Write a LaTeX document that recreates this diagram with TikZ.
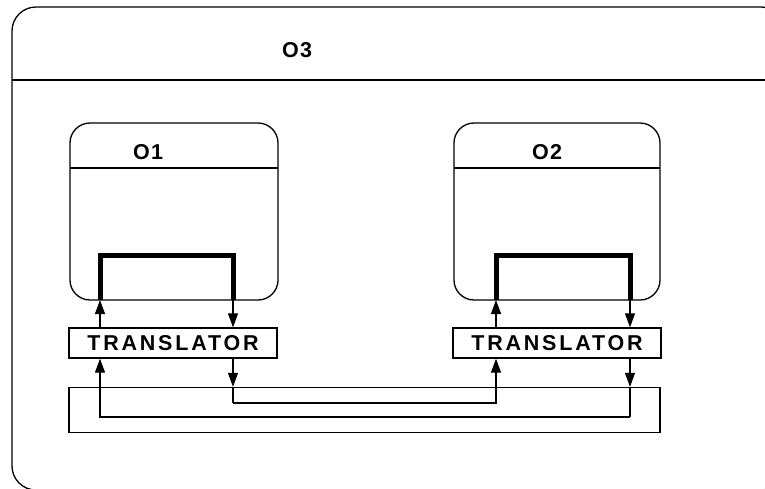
\documentclass[tikz,border=0pt]{standalone}
\usepackage{fontspec}
\setmainfont{Liberation Sans}
\usetikzlibrary{arrows.meta}
\tikzset{
  box/.style={draw, line width=1.3pt, rounded corners=20pt},
  tbox/.style={draw, line width=1.3pt, minimum width=208pt, minimum height=30pt, inner sep=0pt,
    font=\fontsize{21.5}{21.5}\selectfont\bfseries\addfontfeature{LetterSpace=13}},
  lbl/.style={font=\fontsize{21.5}{21.5}\selectfont\bfseries\addfontfeature{LetterSpace=6}},
  thick line/.style={line width=5pt},
  conn/.style={line width=1.1pt, -{Triangle[width=10pt,length=14pt]}},
  wire/.style={line width=1.1pt}
}
\begin{document}
\begin{tikzpicture}[x=1pt,y=-1pt]
\useasboundingbox (0,0) rectangle (765,488);
\fill[white] (0,0) rectangle (765,488);
\begin{scope}
\clip (0,0) rectangle (765,488);
% outer O3
\draw[box, rounded corners=24pt] (12,7) rectangle (785,490);
\draw[line width=1.3pt] (12,80) -- (785,80);
\node[lbl] (o3) at (297,50) {O3};
\end{scope}
% O1
\draw[box] (70,123) rectangle (278,300);
\draw[line width=1.3pt] (70,168) -- (278,168);
\node[lbl] (o1) at (148,152) {O1};
% O2
\draw[box] (454,123) rectangle (660,300);
\draw[line width=1.3pt] (454,168) -- (660,168);
\node[lbl] (o2) at (547,152) {O2};
% ports
\coordinate (o1in) at (100,300);
\coordinate (o1out) at (233,300);
\coordinate (o2in) at (496,300);
\coordinate (o2out) at (630,300);
% thick brackets
\draw[thick line] (o1in) -- (100,255) -- (233,255) -- (o1out);
\draw[thick line] (o2in) -- (496,255) -- (630,255) -- (o2out);
% translators
\node[tbox] (t1) at (173,343) {TRANSLATOR};
\node[tbox] (t2) at (557,343) {TRANSLATOR};
% bus box
\node[draw, line width=1.3pt, minimum width=591pt, minimum height=45pt, inner sep=0pt] (bus) at (364.5,410) {};
% O <-> translator arrows
\draw[conn] (t1.north -| o1in) -- (o1in);
\draw[conn] (o1out) -- (t1.north -| o1out);
\draw[conn] (t2.north -| o2in) -- (o2in);
\draw[conn] (o2out) -- (t2.north -| o2out);
% translator -> bus
\draw[conn] (t1.south -| o1out) -- (bus.north -| o1out);
\draw[conn] (t2.south -| o2out) -- (bus.north -| o2out);
% routes inside bus
\coordinate (r1) at (233,403);
\coordinate (r2) at (630,417);
\draw[wire] (bus.north -| o1out) -- (r1);
\draw[conn] (r1) -| (t2.south -| o2in);
\draw[wire] (bus.north -| o2out) -- (r2);
\draw[conn] (r2) -| (t1.south -| o1in);
\end{tikzpicture}
\end{document}
